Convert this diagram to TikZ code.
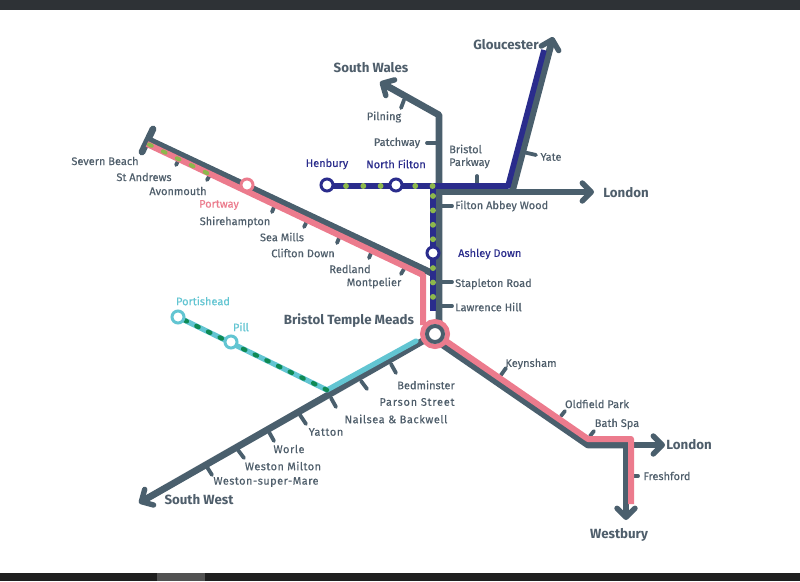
\documentclass[tikz,border=0pt]{standalone}
\usepackage{fontspec}
\setmainfont{Fira Sans}[RawFeature={embolden=0.35},BoldFeatures={RawFeature={embolden=0.0}}]
\usetikzlibrary{arrows.meta}
\definecolor{slateline}{HTML}{4A5F6D}
\definecolor{slatetext}{HTML}{4F5E6B}
\definecolor{navyline}{HTML}{2A2C8C}
\definecolor{pinkline}{HTML}{EC7B8D}
\definecolor{cyanline}{HTML}{62C5D2}
\definecolor{olivedot}{HTML}{8DB84C}
\definecolor{greendot}{HTML}{0F8A55}
\definecolor{topbar}{HTML}{2E3236}
\tikzset{
  main/.style={draw=slateline,line width=6.8pt,line join=round},
  pinkroute/.style={draw=pinkline,line width=6pt,line join=round},
  navyroute/.style={draw=navyline,line width=5.6pt,line join=round},
  cyanroute/.style={draw=cyanline,line width=5.2pt},
  olivedots/.style={draw=olivedot,line width=5.8pt,line cap=round,dash pattern=on 0.01pt off #1},
  olivedash/.style={draw=olivedot,line width=4pt,line cap=round,dash pattern=on 3pt off 12.5pt},
  greendash/.style={draw=greendot,line width=4.4pt,line cap=round,dash pattern=on 2.5pt off 10.5pt},
  chevron/.style={-{Straight Barb[length=9pt,width=18pt,line width=5.4pt,round]}},
  tick/.style={draw=slateline,line width=3.8pt,line cap=round},
  stop/.style={circle,fill=white,line width=3pt,minimum size=12pt,inner sep=0pt},
  lbl/.style={text=slatetext,font=\fontsize{11}{12}\selectfont,inner sep=0pt},
  lblspaced/.style={text=slatetext,font=\fontsize{11}{12}\selectfont\addfontfeature{LetterSpace=#1},inner sep=0pt},
  big/.style={text=slatetext,font=\fontsize{13.3}{14}\selectfont\bfseries,inner sep=0pt,yshift=-1pt},
  navylbl/.style={lbl,text=navyline},
  pinklbl/.style={lbl,text=pinkline},
  cyanlbl/.style={lbl,text=cyanline}
}
\begin{document}
\begin{tikzpicture}[x=1pt,y=-1pt]
\useasboundingbox (0,0) rectangle (800,581);
\fill[white] (0,0) rectangle (800,581);
\fill[topbar] (0,0) rectangle (800,10);
\fill[black!88] (0,573) rectangle (800,581);
\fill[black!68] (157,573) rectangle (205,581);

% junction coordinates
\coordinate (wales) at (380,82);
\coordinate (walesbend) at (439,115);
\coordinate (tm) at (435,334);
\coordinate (tmtop) at (439,322);
\coordinate (londonj) at (439,192);
\coordinate (londontip) at (594,192);
\coordinate (glosj) at (512,192);
\coordinate (glostip) at (553,37);
\coordinate (severnend) at (149,140);
\coordinate (severnbar1) at (142,152);
\coordinate (severnbar2) at (153,129);
\coordinate (severnj) at (438,276);
\coordinate (swtip) at (139,503);
\coordinate (bathbend) at (588,445);
\coordinate (bathj) at (626,445);
\coordinate (london2tip) at (665,445);
\coordinate (westburytip) at (626,520);
\coordinate (pinkstart) at (147,144);
\coordinate (pinkbend) at (423,275);
\coordinate (pinkbath) at (588,439);
\coordinate (pinkcorner) at (631,439);
\coordinate (pinkend) at (631,504);
\coordinate (navyj) at (508,186);
\coordinate (navytip) at (544,50);
\coordinate (navydown) at (433,186);
\coordinate (navyend) at (433,311);
\coordinate (cyanj) at (327,390);
\coordinate (cyanend) at (416,341);

% ticks
\draw[tick] (404,100) -- (401,108);
\draw[tick] (427,143) -- (438,143);
\draw[tick] (477,176) -- (477,186);
\draw[tick] (523,152) -- (536,155);
\draw[tick] (439,206) -- (452,206);
\draw[tick] (439,282) -- (452,282);
\draw[tick] (439,306) -- (452,306);
\draw[tick] (179,159) -- (176,165);
\draw[tick] (210,175) -- (207,180);
\draw[tick] (274,207) -- (272,212);
\draw[tick] (306,223) -- (304,227);
\draw[tick] (339,238) -- (337,243);
\draw[tick] (371,253) -- (369,258);
\draw[tick] (404,269) -- (401,274);
\draw[tick] (391,364) -- (396,373);
\draw[tick] (361,381) -- (367,389);
\draw[tick] (331,398) -- (336,407);
\draw[tick] (300,415) -- (306,424);
\draw[tick] (269,432) -- (274,441);
\draw[tick] (238,450) -- (244,458);
\draw[tick] (207,467) -- (212,475);
\draw[tick] (501,375) -- (506,368);
\draw[tick] (561,416) -- (565,411);
\draw[tick] (590,436) -- (594,431);
\draw[tick] (630,476) -- (638,476);

% slate routes
\draw[main,chevron] (tmtop) -- (walesbend) -- (wales);
\draw[main,chevron] (londonj) -- (londontip);
\draw[main,chevron] (glosj) -- (glostip);
\draw[main,line cap=round] (severnbar1) -- (severnbar2);
\draw[main] (severnend) -- (severnj);
\draw[main,chevron] (tm) -- (swtip);
\draw[main] (tm) ++(5,9) -- (bathbend) -- (bathj);
\draw[main,chevron] (bathj) -- (london2tip);
\draw[main,chevron] (bathj) -- (westburytip);

% pink route
\draw[pinkroute] (pinkstart) -- (pinkbend) -- ++(0,50);
\draw[pinkroute] (tm) ++(8,5) -- (pinkbath) -- (pinkcorner) -- (pinkend);

% olive over pink at the Severn end
\draw[olivedash] (149,144.5) -- (211,175);

% navy route
\draw[navyroute] (327,186) -- (navyj) -- (navytip);
\draw[navyroute] (navydown) -- (navyend);
\draw[olivedots=17.3pt] (346,186) -- (433,186);
\draw[olivedots=14.4pt] (433,196) -- (navyend);

% cyan route
\draw[cyanroute,line cap=round] (cyanj) -- (cyanend);
\draw[cyanroute] (178,317) -- (cyanj);
\draw[greendash] (cyanj) -- (178,317);

% stations
\node[stop,draw=pinkline] (portway) at (247,185) {};
\node[stop,draw=navyline] (henbury) at (327,185) {};
\node[stop,draw=navyline] (northfilton) at (396,185) {};
\node[stop,draw=navyline] (ashley) at (433,253) {};
\node[stop,draw=cyanline] (portishead) at (178,317) {};
\node[stop,draw=cyanline] (pill) at (231,342) {};
\node[circle,fill=white,draw=pinkline,line width=5pt,minimum size=25pt,inner sep=0pt] (temple) at (tm) {};
\node[circle,fill=white,draw=slateline,line width=4pt,minimum size=16pt,inner sep=0pt] (templein) at (tm) {};

% labels
\node[big] (lglos) at (506,44) {Gloucester};
\node[big] (lwales) at (371,67) {South Wales};
\node[big] (llon) at (626,192) {London};
\node[big] (ltm) at (349,320) {Bristol Temple Meads};
\node[big] (llon2) at (689,444) {London};
\node[big] (lwest) at (619,534) {Westbury};
\node[big] (lsw) at (199,499) {South West};
\node[lbl] (l1) at (384,117) {Pilning};
\node[lbl] (l2) at (397,143) {Patchway};
\node[lbl,anchor=west] (l3) at (449,149) {Bristol};
\node[lbl,anchor=west] (l4) at (449,163) {Parkway};
\node[lbl] (l5) at (551,157) {Yate};
\node[lbl,anchor=west] (l6) at (455,206) {Filton Abbey Wood};
\node[lbl,anchor=west] (l7) at (455,284) {Stapleton Road};
\node[lbl,anchor=west] (l8) at (455,307) {Lawrence Hill};
\node[lbl] (l9) at (531,364) {Keynsham};
\node[lbl] (l10) at (597,404) {Oldfield Park};
\node[lbl] (l11) at (617,424) {Bath Spa};
\node[lbl] (l12) at (667,476) {Freshford};
\node[lbl] (l13) at (426,385) {Bedminster};
\node[lblspaced=7] (l14) at (417,402) {Parson Street};
\node[lblspaced=5] (l15) at (396,419) {Nailsea \& Backwell};
\node[lblspaced=5] (l16) at (326,432) {Yatton};
\node[lblspaced=5] (l17) at (289,449) {Worle};
\node[lblspaced=4] (l18) at (283,466) {Weston Milton};
\node[lblspaced=4] (l19) at (266,482) {Weston-super-Mare};
\node[lbl] (l20) at (105,161) {Severn Beach};
\node[lbl] (l21) at (144,177) {St Andrews};
\node[lbl] (l22) at (178,191) {Avonmouth};
\node[lbl] (l23) at (235,222) {Shirehampton};
\node[lbl] (l24) at (282,237) {Sea Mills};
\node[lbl] (l25) at (303,253) {Clifton Down};
\node[lbl] (l26) at (350,269) {Redland};
\node[lbl] (l27) at (374,283) {Montpelier};
\node[pinklbl] (l28) at (219,205) {Portway};
\node[cyanlbl] (l29) at (203,301) {Portishead};
\node[cyanlbl] (l30) at (241,327) {Pill};
\node[navylbl] (l31) at (327,164) {Henbury};
\node[navylbl] (l32) at (396,164) {North Filton};
\node[navylbl,anchor=west] (l33) at (458,254) {Ashley Down};
\end{tikzpicture}
\end{document}
